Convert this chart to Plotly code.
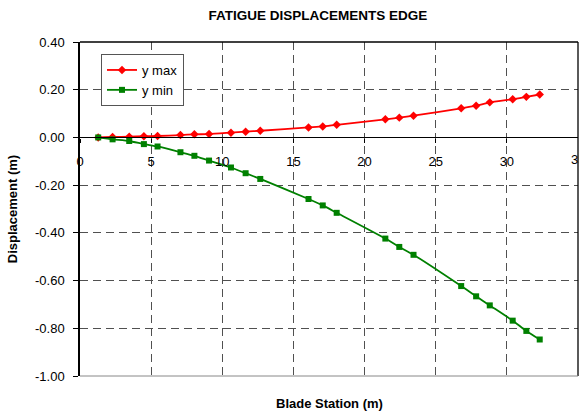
import plotly.graph_objects as go

# Blade stations (m) and edgewise fatigue displacements (m)
station = [1.28, 2.29, 3.46, 4.49, 5.45, 7.06, 8.04, 9.07, 10.61, 11.64, 12.67,
           16.06, 17.06, 18.04, 21.46, 22.44, 23.44, 26.79, 27.84, 28.80,
           30.41, 31.37, 32.31]
y_max = [0.000, 0.002, 0.003, 0.005, 0.006, 0.010, 0.013, 0.014, 0.020, 0.024, 0.028,
         0.042, 0.046, 0.053, 0.076, 0.083, 0.091, 0.122, 0.133, 0.147,
         0.160, 0.170, 0.180]
y_min = [0.000, -0.008, -0.015, -0.028, -0.038, -0.062, -0.077, -0.097, -0.126, -0.150, -0.174,
         -0.258, -0.285, -0.316, -0.424, -0.459, -0.492, -0.623, -0.666, -0.704,
         -0.768, -0.811, -0.847]

x_ticks = [0, 5, 10, 15, 20, 25, 30, 35]
y_ticks = [0.40, 0.20, 0.00, -0.20, -0.40, -0.60, -0.80, -1.00]
y_range = [-1.0, 0.4]

FONT = "Liberation Sans, Arial, sans-serif"
GRID = "#505050"

fig = go.Figure()
fig.add_trace(go.Scatter(
    x=station, y=y_max, name="y max", mode="lines+markers",
    line=dict(color="#ff0000", width=1.8, shape="spline", smoothing=0.6),
    marker=dict(symbol="diamond", size=6.5, color="#ff0000"),
))
fig.add_trace(go.Scatter(
    x=station, y=y_min, name="y min", mode="lines+markers",
    line=dict(color="#008000", width=1.8, shape="spline", smoothing=0.6),
    marker=dict(symbol="square", size=6, color="#008000"),
))

# x axis drawn through y = 0
zero_pos = (0 - y_range[0]) / (y_range[1] - y_range[0])

fig.update_layout(
    width=579, height=414,
    margin=dict(l=80, r=1, t=42, b=38),
    paper_bgcolor="white", plot_bgcolor="white",
    font=dict(family=FONT, size=13, color="black"),
    title=dict(text="<b>FATIGUE DISPLACEMENTS EDGE</b>", x=318 / 579, xanchor="center",
               y=1 - 15 / 414, yanchor="middle",
               font=dict(family=FONT, size=13.5, color="black")),
    xaxis=dict(
        range=[0, 35], tickvals=x_ticks[:-1], ticktext=[str(v) for v in x_ticks[:-1]],
        showgrid=True, gridcolor=GRID, griddash="8px,5px", gridwidth=1,
        showline=True, linecolor="black", linewidth=1.3,
        anchor="free", position=zero_pos,
        ticks="outside", ticklen=4, tickcolor="black",
        ticklabelstandoff=8, zeroline=False,
    ),
    yaxis=dict(
        range=y_range, tickvals=y_ticks, ticktext=[f"{v:.2f}" for v in y_ticks],
        showgrid=True, gridcolor=GRID, griddash="8px,5px", gridwidth=1,
        showline=True, linecolor="black", linewidth=1.5,
        ticks="outside", ticklen=5, tickcolor="black",
        ticklabelstandoff=6, zeroline=False,
        title=dict(text="<b>Displacement (m)</b>", font=dict(size=13), standoff=14),
    ),
    legend=dict(
        x=21 / 498, y=1 - 12 / 334, xanchor="left", yanchor="top",
        bgcolor="white", bordercolor="#555555", borderwidth=1,
        font=dict(size=13), tracegroupgap=0, itemwidth=30,
    ),
    showlegend=True,
    shapes=[
        dict(type="line", xref="paper", yref="paper", x0=0, x1=1, y0=1, y1=1,
             line=dict(color="black", width=1.3)),
        dict(type="line", xref="paper", yref="paper", x0=1, x1=1, y0=0, y1=1,
             line=dict(color="black", width=1.3)),
        dict(type="line", xref="paper", yref="paper", x0=0, x1=1, y0=0, y1=0,
             line=dict(color="#888888", width=1)),
    ],
    annotations=[
        dict(text="<b>Blade Station (m)</b>", xref="paper", yref="paper",
             x=0.5, y=-27 / 334, xanchor="center", yanchor="middle",
             showarrow=False, font=dict(size=13)),
        # last x tick label sits on the right edge of the figure
        dict(text=str(x_ticks[-1]), xref="x", yref="y", x=x_ticks[-1], y=0,
             xanchor="center", yanchor="top", yshift=-13,
             showarrow=False, font=dict(size=13)),
    ],
)

fig.write_html("out.html")
